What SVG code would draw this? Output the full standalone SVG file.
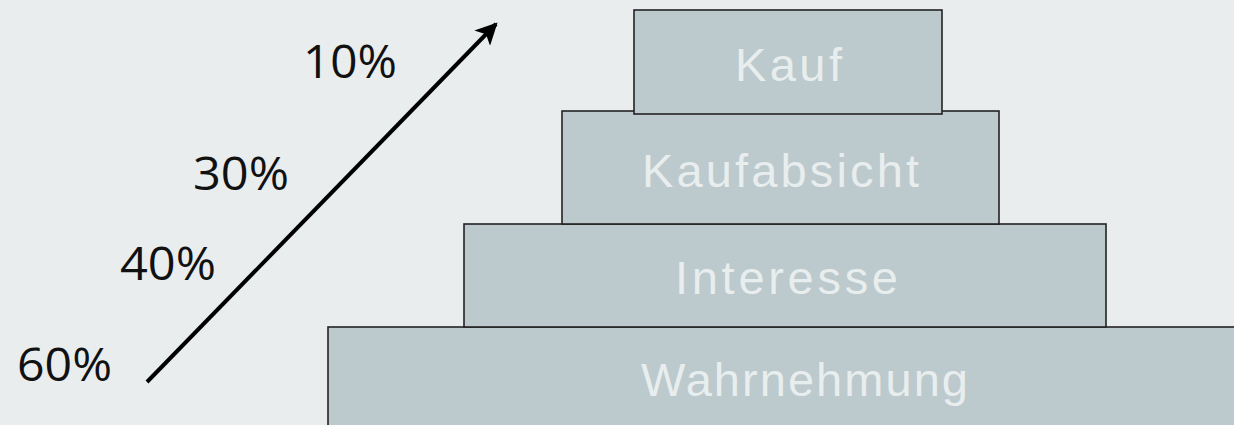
<svg xmlns="http://www.w3.org/2000/svg" width="1234" height="425" viewBox="0 0 1234 425">
  <style>
    .box { fill: #bcc9cd; stroke: #222; stroke-width: 1.6; }
    .lbl { font-family: "Liberation Sans", Arial, sans-serif; font-size: 47px; fill: #e8edee; text-anchor: middle; }
    .pct { font-family: "Open Sans", "Liberation Sans", sans-serif; font-size: 46px; fill: #111; }
  </style>
  <defs>
    <marker id="arr" viewBox="0 0 10 10" refX="9" refY="5" markerWidth="5.5" markerHeight="5.5" orient="auto" markerUnits="strokeWidth">
      <path d="M0,0 L10,5 L0,10 L2.5,5 Z" fill="#000"/>
    </marker>
  </defs>
  <rect width="1234" height="425" fill="#e9edee"/>
  <g id="node-wahrnehmung">
    <rect class="box" x="328" y="327" width="960" height="110"/>
    <text class="lbl" x="804.5" y="396" textLength="327" lengthAdjust="spacing">Wahrnehmung</text>
  </g>
  <g id="node-interesse">
    <rect class="box" x="464" y="224" width="642" height="103"/>
    <text class="lbl" x="786.5" y="294" textLength="223" lengthAdjust="spacing">Interesse</text>
  </g>
  <g id="node-kaufabsicht">
    <rect class="box" x="562" y="111" width="437" height="113"/>
    <text class="lbl" x="780.5" y="187" textLength="277" lengthAdjust="spacing">Kaufabsicht</text>
  </g>
  <g id="node-kauf">
    <rect class="box" x="634" y="10" width="308" height="104"/>
    <text class="lbl" x="788.5" y="81" textLength="107" lengthAdjust="spacing">Kauf</text>
  </g>
  <g id="labels">
    <text class="pct" x="303" y="78" textLength="94" lengthAdjust="spacingAndGlyphs">10%</text>
    <text class="pct" x="193" y="190" textLength="96" lengthAdjust="spacingAndGlyphs">30%</text>
    <text class="pct" x="120" y="280" textLength="96" lengthAdjust="spacingAndGlyphs">40%</text>
    <text class="pct" x="17" y="381" textLength="95" lengthAdjust="spacingAndGlyphs">60%</text>
  </g>
  <g id="connectors">
    <line x1="147" y1="382" x2="496" y2="24" stroke="#000" stroke-width="4" marker-end="url(#arr)"/>
  </g>
</svg>
